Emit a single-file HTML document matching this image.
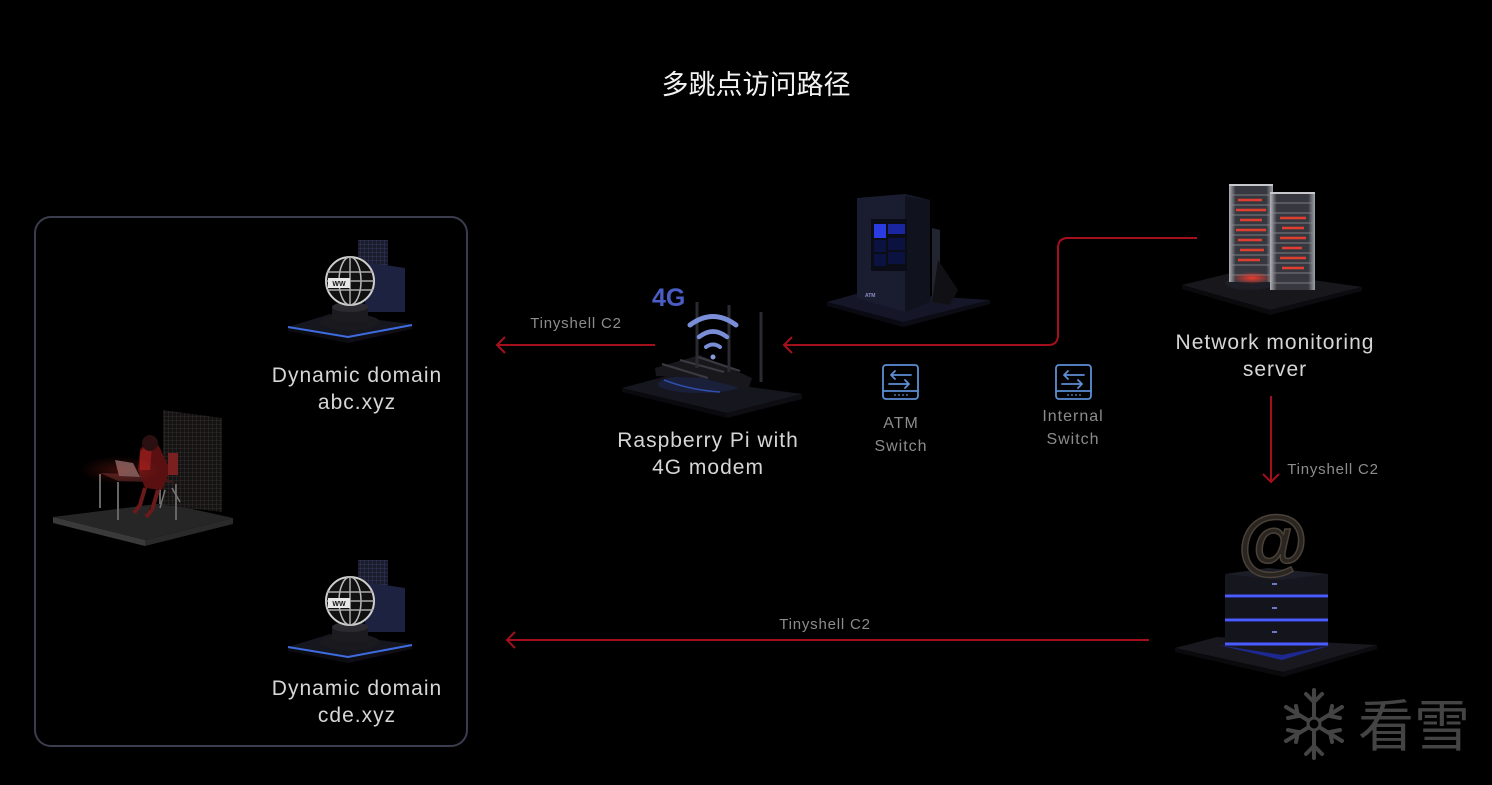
<!DOCTYPE html>
<html><head><meta charset="utf-8">
<style>
html,body{margin:0;padding:0;background:#000;}
body{width:1492px;height:785px;overflow:hidden;position:relative;font-family:"Liberation Sans","Noto Sans CJK SC",sans-serif;}
svg{position:absolute;left:0;top:0;}
</style></head>
<body>
<svg width="1492" height="785" viewBox="0 0 1492 785" xmlns="http://www.w3.org/2000/svg">
<defs>
<radialGradient id="rglow" cx="50%" cy="50%" r="50%">
<stop offset="0" stop-color="#ff3a2a" stop-opacity="0.9"/>
<stop offset="1" stop-color="#ff3a2a" stop-opacity="0"/>
</radialGradient>
<linearGradient id="tower" x1="0" y1="0" x2="1" y2="0">
<stop offset="0" stop-color="#b8bac0"/>
<stop offset="0.15" stop-color="#3a3b42"/>
<stop offset="0.85" stop-color="#3a3b42"/>
<stop offset="1" stop-color="#a8acb4"/>
</linearGradient>
<pattern id="grid" width="4" height="4" patternUnits="userSpaceOnUse">
<rect width="4" height="4" fill="#1a1c2a"/>
<path d="M0 0H4M0 0V4" stroke="#3a4070" stroke-width="0.8"/>
</pattern>
<pattern id="gridr" width="4" height="4" patternUnits="userSpaceOnUse">
<rect width="4" height="4" fill="#141212"/>
<path d="M0 0H4M0 0V4" stroke="#3e3434" stroke-width="0.8"/>
</pattern>
</defs>

<!-- Title -->
<text x="756" y="94" fill="#f2f2f2" font-size="27" text-anchor="middle" font-family="Liberation Sans, Noto Sans CJK SC, sans-serif">多跳点访问路径</text>

<!-- Left box -->
<rect x="35" y="217" width="432" height="529" rx="16" ry="16" fill="none" stroke="#3b3d4e" stroke-width="2"/>

<!-- ===== Globe 1 ===== -->
<g>
<rect x="358" y="240" width="30" height="60" fill="url(#grid)"/>
<polygon points="365,262 405,268 405,312 365,312" fill="#1d2240"/>
<polygon points="288,327 330,314 412,324 348,337" fill="#15161e"/>
<polygon points="288,327 348,337 348,343 288,331" fill="#0c0c10"/>
<polygon points="348,337 412,324 412,329 348,343" fill="#0e0e14"/>
<path d="M288,327 L348,337 L412,325" stroke="#3f6be0" stroke-width="2" fill="none"/>
<ellipse cx="350" cy="322" rx="30" ry="8" fill="#1a1a1e"/>
<rect x="332" y="307" width="36" height="14" fill="#1c1c20"/>
<ellipse cx="350" cy="307" rx="18" ry="5" fill="#2a2a30"/>
<circle cx="350" cy="281" r="24" fill="#111" stroke="#cfcfcf" stroke-width="2"/>
<ellipse cx="350" cy="281" rx="11" ry="24" fill="none" stroke="#bbb" stroke-width="1.5"/>
<path d="M327,272H373M326,281H374M327,290H373M350,257V305" stroke="#aaa" stroke-width="1.5"/>
<rect x="328" y="278" width="22" height="10" fill="#e8e8e8"/>
<text x="339" y="286" font-size="7" fill="#111" text-anchor="middle" font-weight="bold">WW</text>
</g>
<text x="357" y="382" fill="#d6d6d6" font-size="21" letter-spacing="1" text-anchor="middle">Dynamic domain</text>
<text x="357" y="409" fill="#d6d6d6" font-size="21" letter-spacing="1" text-anchor="middle">abc.xyz</text>

<!-- ===== Globe 2 ===== -->
<g transform="translate(0,320)">
<rect x="358" y="240" width="30" height="60" fill="url(#grid)"/>
<polygon points="365,262 405,268 405,312 365,312" fill="#1d2240"/>
<polygon points="288,327 330,314 412,324 348,337" fill="#15161e"/>
<polygon points="288,327 348,337 348,343 288,331" fill="#0c0c10"/>
<polygon points="348,337 412,324 412,329 348,343" fill="#0e0e14"/>
<path d="M288,327 L348,337 L412,325" stroke="#3f6be0" stroke-width="2" fill="none"/>
<ellipse cx="350" cy="322" rx="30" ry="8" fill="#1a1a1e"/>
<rect x="332" y="307" width="36" height="14" fill="#1c1c20"/>
<ellipse cx="350" cy="307" rx="18" ry="5" fill="#2a2a30"/>
<circle cx="350" cy="281" r="24" fill="#111" stroke="#cfcfcf" stroke-width="2"/>
<ellipse cx="350" cy="281" rx="11" ry="24" fill="none" stroke="#bbb" stroke-width="1.5"/>
<path d="M327,272H373M326,281H374M327,290H373M350,257V305" stroke="#aaa" stroke-width="1.5"/>
<rect x="328" y="278" width="22" height="10" fill="#e8e8e8"/>
<text x="339" y="286" font-size="7" fill="#111" text-anchor="middle" font-weight="bold">WW</text>
</g>
<text x="357" y="695" fill="#d6d6d6" font-size="21" letter-spacing="1" text-anchor="middle">Dynamic domain</text>
<text x="357" y="722" fill="#d6d6d6" font-size="21" letter-spacing="1" text-anchor="middle">cde.xyz</text>

<!-- ===== Hacker ===== -->
<g>
<polygon points="53,517 165,503 233,518 145,540" fill="#262626"/>
<polygon points="53,517 145,540 145,546 53,523" fill="#3a3a3a"/>
<polygon points="145,540 233,518 233,524 145,546" fill="#2a2a2a"/>
<polygon points="163,410 222,418 222,512 163,505" fill="url(#gridr)"/>
<polygon points="100,473 160,475 176,483 118,481" fill="#3a1a1a"/>
<path d="M100,474V508M118,482V520M176,484V520M160,476V504" stroke="#666" stroke-width="2"/>
<polygon points="115,460 133,463 140,477 119,476" fill="#6a5a5a"/>
<path d="M140,450 Q150,432 160,448 L170,470 L162,490 L145,488 L138,470Z" fill="#5a1010"/>
<path d="M140,452 Q146,444 152,446 L150,470 L140,470Z" fill="#8a1a1a"/>
<circle cx="150" cy="443" r="8" fill="#2a1010"/>
<path d="M145,488 L140,505 L134,513 M158,490 L152,510 L146,517" stroke="#6a1a1a" stroke-width="4"/>
<rect x="168" y="453" width="10" height="22" fill="#7a2020"/>
<path d="M165,490 L160,508 M172,488 L180,502" stroke="#777" stroke-width="1.5"/>
<ellipse cx="120" cy="470" rx="40" ry="14" fill="url(#rglow)" opacity="0.25"/>
</g>

<!-- ===== Router ===== -->
<g>
<polygon points="622,388 667,376 802,394 727,413" fill="#16171e"/>
<polygon points="622,388 727,413 727,418 622,392" fill="#0a0a0e"/>
<polygon points="727,413 802,394 802,399 727,418" fill="#0d0d12"/>
<ellipse cx="700" cy="384" rx="42" ry="9" fill="#1a1f3a"/>
<path d="M664,380 Q690,390 720,392" stroke="#3050b0" stroke-width="1.5" fill="none"/>
<polygon points="655,368 700,355 752,378 748,390 702,378 656,376" fill="#18181c"/>
<path d="M662,364 L708,378 M680,360 L724,372 M698,357 L740,371" stroke="#3a3a42" stroke-width="2"/>
<path d="M697,302V368M729,305V372M761,312V382" stroke="#2a2a30" stroke-width="3"/>
<text x="652" y="306" fill="#4a5dc4" font-size="25" font-weight="bold">4G</text>
<path d="M690,325 Q713,308 736,325" stroke="#7a8ed8" stroke-width="5" fill="none" stroke-linecap="round"/>
<path d="M699,337 Q713,326 727,337" stroke="#7a8ed8" stroke-width="4.5" fill="none" stroke-linecap="round"/>
<path d="M706,347 Q713,342 720,347" stroke="#7a8ed8" stroke-width="4" fill="none" stroke-linecap="round"/>
<circle cx="713" cy="357" r="2.5" fill="#8a9ade"/>
</g>
<text x="708" y="447" fill="#d6d6d6" font-size="21" letter-spacing="1" text-anchor="middle">Raspberry Pi with</text>
<text x="708" y="474" fill="#d6d6d6" font-size="21" letter-spacing="1" text-anchor="middle">4G modem</text>

<!-- ===== ATM ===== -->
<g>
<polygon points="827,302 863,292 990,300 903,322" fill="#151728"/>
<polygon points="827,302 903,322 903,327 827,306" fill="#0a0a12"/>
<polygon points="903,322 990,300 990,304 903,327" fill="#0c0c14"/>
<polygon points="857,198 905,194 930,200 930,302 905,312 857,298" fill="#1a1d30"/>
<polygon points="905,196 930,200 930,302 905,312" fill="#10121e"/>
<rect x="871" y="219" width="36" height="52" fill="#0a0c16"/>
<rect x="874" y="224" width="12" height="14" fill="#2a3ce0"/>
<rect x="888" y="224" width="17" height="10" fill="#1a26a0"/>
<rect x="874" y="240" width="12" height="12" fill="#0c1240"/>
<rect x="888" y="238" width="17" height="12" fill="#0c1240"/>
<rect x="874" y="254" width="12" height="12" fill="#0c1240"/>
<rect x="888" y="252" width="17" height="12" fill="#0c1240"/>
<path d="M932,228 L940,230 L940,300 L932,302Z" fill="#222430"/>
<path d="M938,260 L958,290 L950,305 L932,302Z" fill="#111115"/>
<text x="865" y="297" fill="#8a8ec0" font-size="5" font-weight="bold">ATM</text>
</g>
<text x="901" y="428" fill="#8c8c8c" font-size="16" letter-spacing="1" text-anchor="middle">ATM</text>
<text x="901" y="451" fill="#8c8c8c" font-size="16" letter-spacing="1" text-anchor="middle">Switch</text>
<text x="1073" y="421" fill="#8c8c8c" font-size="16" letter-spacing="1" text-anchor="middle">Internal</text>
<text x="1073" y="444" fill="#8c8c8c" font-size="16" letter-spacing="1" text-anchor="middle">Switch</text>

<!-- switch icons -->
<g stroke="#5b8fd4" stroke-width="1.8" fill="none" stroke-linecap="round" stroke-linejoin="round">
<rect x="883" y="365" width="35" height="34" rx="3"/>
<path d="M883,391H918"/>
<path d="M911,375H891M895,371L891,375L895,379"/>
<path d="M889,384H909M905,380L909,384L905,388"/>
<rect x="1056" y="365" width="35" height="34" rx="3"/>
<path d="M1056,391H1091"/>
<path d="M1084,375H1064M1068,371L1064,375L1068,379"/>
<path d="M1062,384H1082M1078,380L1082,384L1078,388"/>
</g>
<g fill="#5b8fd4">
<circle cx="895" cy="395" r="0.9"/><circle cx="899" cy="395" r="0.9"/><circle cx="903" cy="395" r="0.9"/><circle cx="907" cy="395" r="0.9"/>
<circle cx="1068" cy="395" r="0.9"/><circle cx="1072" cy="395" r="0.9"/><circle cx="1076" cy="395" r="0.9"/><circle cx="1080" cy="395" r="0.9"/>
</g>

<!-- ===== Network monitoring server ===== -->
<g>
<polygon points="1182,285 1243,270 1362,287 1270,310" fill="#17171c"/>
<polygon points="1182,285 1270,310 1270,315 1182,289" fill="#0a0a0c"/>
<polygon points="1270,310 1362,287 1362,291 1270,315" fill="#0c0c10"/>
<ellipse cx="1250" cy="283" rx="25" ry="7" fill="#1e1e26"/>
<rect x="1229" y="185" width="44" height="97" fill="url(#tower)" opacity="0.95"/>
<rect x="1270" y="193" width="45" height="97" fill="url(#tower)" opacity="0.95"/>
<path d="M1229,185H1273M1270,193H1315" stroke="#c8c8cc" stroke-width="2"/>
<g stroke="#8a8c92" stroke-width="1" opacity="0.8">
<path d="M1231,195H1271M1231,205H1271M1231,215H1271M1231,225H1271M1231,235H1271M1231,245H1271M1231,255H1271M1231,265H1271M1231,275H1271"/>
<path d="M1272,203H1313M1272,213H1313M1272,223H1313M1272,233H1313M1272,243H1313M1272,253H1313M1272,263H1313M1272,273H1313M1272,283H1313"/>
</g>
<g stroke="#ff4030" stroke-width="2.5" opacity="0.85">
<path d="M1238,200H1262M1236,210H1266M1240,220H1262M1236,230H1266M1238,240H1262M1240,250H1264M1238,260H1260"/>
<path d="M1280,218H1306M1282,228H1304M1280,238H1306M1282,248H1302M1280,258H1306M1282,268H1304"/>
</g>
<ellipse cx="1252" cy="278" rx="20" ry="6" fill="url(#rglow)"/>
</g>
<text x="1275" y="349" fill="#d6d6d6" font-size="21" letter-spacing="1" text-anchor="middle">Network monitoring</text>
<text x="1275" y="376" fill="#d6d6d6" font-size="21" letter-spacing="1" text-anchor="middle">server</text>

<!-- ===== Mail server ===== -->
<g>
<polygon points="1175,648 1217,637 1377,645 1283,672" fill="#18181e"/>
<polygon points="1175,648 1283,672 1283,677 1175,652" fill="#0a0a0c"/>
<polygon points="1283,672 1377,645 1377,649 1283,677" fill="#0c0c10"/>
<polygon points="1218,645 1282,655 1332,645 1282,660" fill="#2030c0" opacity="0.7"/>
<rect x="1225" y="574" width="103" height="22" fill="#15161e"/>
<rect x="1225" y="598" width="103" height="22" fill="#14151c"/>
<rect x="1225" y="622" width="103" height="22" fill="#14151c"/>
<polygon points="1225,574 1268,568 1328,574 1280,580" fill="#1c1d26"/>
<path d="M1225,596H1328M1225,620H1328M1225,644H1328" stroke="#4a5cff" stroke-width="3"/>
<path d="M1272,584h5M1272,608h5M1272,632h5" stroke="#8a9aff" stroke-width="1.5"/>
<text x="1273" y="566" fill="#2a2520" stroke="#4a4238" stroke-width="1.5" font-size="72" text-anchor="middle" font-weight="bold">@</text>
</g>

<!-- ===== Connectors ===== -->
<g stroke="#a3101c" stroke-width="2" fill="none">
<path d="M655,345H497"/>
<path d="M505,337L497,345L505,353"/>
<path d="M1197,238H1068Q1058,238 1058,248V335Q1058,345 1048,345H784"/>
<path d="M792,337L784,345L792,353"/>
<path d="M1271,396V482"/>
<path d="M1263,474L1271,482L1279,474"/>
<path d="M1149,640H507"/>
<path d="M515,632L507,640L515,648"/>
</g>
<text x="576" y="328" fill="#8c8c8c" font-size="15" letter-spacing="0.8" text-anchor="middle">Tinyshell C2</text>
<text x="1333" y="474" fill="#8c8c8c" font-size="15" letter-spacing="0.8" text-anchor="middle">Tinyshell C2</text>
<text x="825" y="629" fill="#8c8c8c" font-size="15" letter-spacing="0.8" text-anchor="middle">Tinyshell C2</text>

<!-- ===== Watermark ===== -->
<g stroke="#444" stroke-width="4" fill="none" stroke-linecap="round">
<path d="M1314,690V758M1286,707L1342,741M1286,741L1342,707"/>
<path d="M1306,694L1314,702L1322,694M1306,754L1314,746L1322,754"/>
<path d="M1288,718L1298,716L1296,706M1340,730L1330,732L1332,742"/>
<path d="M1288,730L1298,732L1296,742M1340,718L1330,716L1332,706"/>
</g>
<circle cx="1314" cy="724" r="6" fill="#000" stroke="#444" stroke-width="3"/>
<text x="1414" y="746" fill="#444" font-size="56" text-anchor="middle" font-family="Noto Sans CJK SC, sans-serif">看雪</text>
</svg>
</body></html>
